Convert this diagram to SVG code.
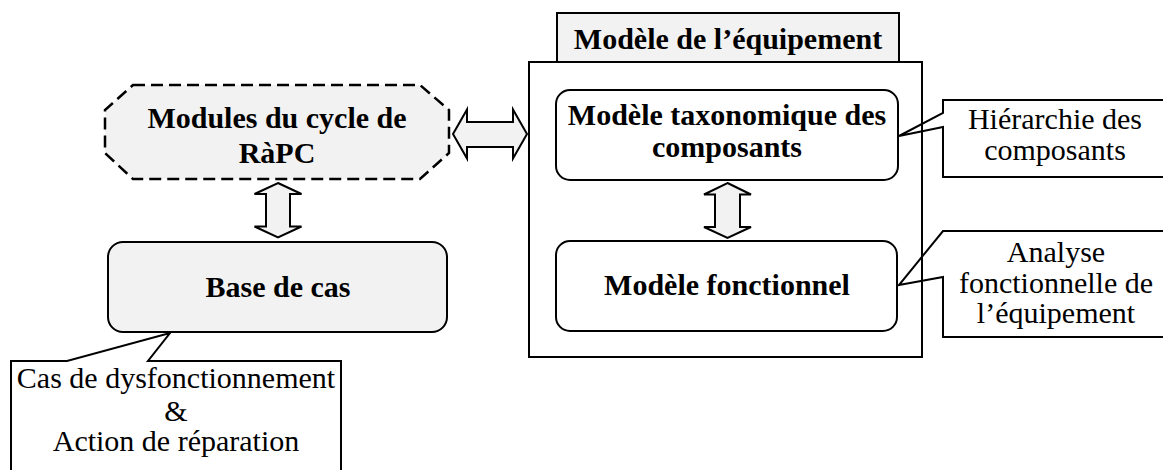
<svg xmlns="http://www.w3.org/2000/svg" width="1163" height="470" viewBox="0 0 1163 470">
  <style>
    .node { stroke: #000; stroke-width: 2; }
    .grey { fill: #f2f2f2; }
    .white { fill: #fff; }
    .dashed { stroke-dasharray: 12 6; stroke-width: 2.5; }
    .callout { fill: none; stroke: #000; stroke-width: 2; stroke-linejoin: miter; }
    .arrow { fill: #f2f2f2; stroke: #000; stroke-width: 2; stroke-linejoin: miter; }
    .title { font-family: "Liberation Serif", "Times New Roman", serif; font-weight: bold; font-size: 30px; text-anchor: middle; fill: #000; }
    .note { font-family: "Liberation Serif", "Times New Roman", serif; font-size: 30px; text-anchor: middle; fill: #000; }
  </style>

  <!-- equipment model container -->
  <g id="equipement">
    <rect class="node white" x="529" y="62" width="393" height="295"/>
    <rect class="node grey" x="557" y="13" width="342" height="49"/>
    <text class="title" x="728" y="49">Modèle de l’équipement</text>
  </g>

  <!-- CBR cycle modules -->
  <g id="modules">
    <polygon class="node grey dashed" points="133,85 420,85 449,110 449,153 420,179 133,179 105,153 105,110"/>
    <text class="title" x="277" y="128">Modules du cycle de</text>
    <text class="title" x="277" y="163">RàPC</text>
  </g>

  <!-- case base -->
  <g id="base-cas">
    <rect class="node grey" x="108" y="242" width="339" height="90" rx="15" ry="15"/>
    <text class="title" x="278" y="297">Base de cas</text>
  </g>

  <!-- taxonomic model -->
  <g id="taxonomique">
    <rect class="node white" x="556" y="90" width="342" height="90" rx="14" ry="14"/>
    <text class="title" x="727" y="125">Modèle taxonomique des</text>
    <text class="title" x="727" y="157">composants</text>
  </g>

  <!-- functional model -->
  <g id="fonctionnel">
    <rect class="node white" x="556" y="241" width="341" height="90" rx="14" ry="14"/>
    <text class="title" x="727" y="295">Modèle fonctionnel</text>
  </g>

  <!-- double block arrows -->
  <g id="connecteurs">
    <path class="arrow" d="M453,134 L467,109.5 L467,122 L513,122 L513,109.5 L527,134 L513,158.5 L513,147 L467,147 L467,158.5 Z"/>
    <path class="arrow" d="M278,183 L301.5,194 L290,194 L290,226.5 L301.5,226.5 L278,237.5 L254.5,226.5 L266,226.5 L266,194 L254.5,194 Z"/>
    <path class="arrow" d="M727.5,183 L751,194.5 L740,194.5 L740,227 L751,227 L727.5,238 L704,227 L715,227 L715,194.5 L704,194.5 Z"/>
  </g>

  <!-- annotation callouts -->
  <g id="hierarchie">
    <path class="callout" d="M1165,100 L943,100 L943,113 L899,136 L943,127 L943,177 L1165,177"/>
    <text class="note" x="1055" y="129">Hiérarchie des</text>
    <text class="note" x="1055" y="160">composants</text>
  </g>

  <g id="analyse">
    <path class="callout" d="M1165,231 L943,231 L899,285 L943,277 L943,337 L1165,337"/>
    <text class="note" x="1056" y="262">Analyse</text>
    <text class="note" x="1056" y="293">fonctionnelle de</text>
    <text class="note" x="1056" y="323">l’équipement</text>
  </g>

  <g id="cas">
    <path class="callout" d="M11,472 L11,361 L67,361 L170,333 L148,361 L341,361 L341,472"/>
    <text class="note" x="176" y="388">Cas de dysfonctionnement</text>
    <text class="note" x="176" y="421">&amp;</text>
    <text class="note" x="176" y="451">Action de réparation</text>
  </g>
</svg>
